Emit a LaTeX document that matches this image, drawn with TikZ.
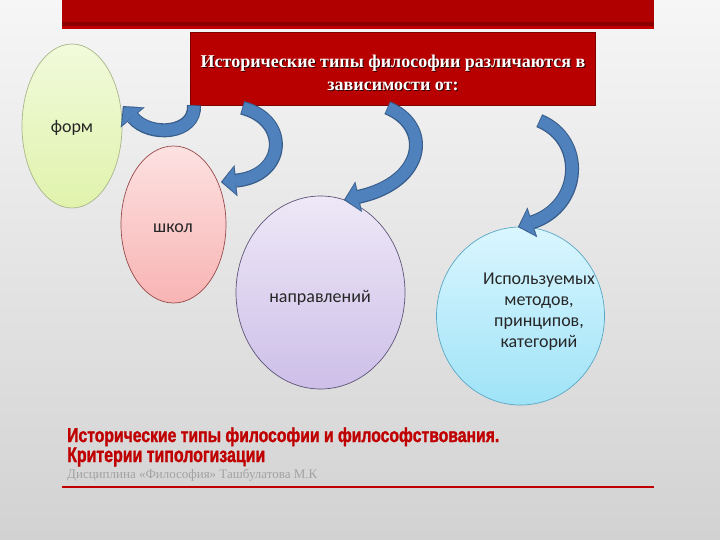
\documentclass[tikz,border=0pt]{standalone}
\usepackage{fontspec}
\setmainfont{Liberation Serif}
\newfontfamily\carl{Carlito}
\newfontfamily\cond[BoldFeatures={FakeBold=1.6}]{Liberation Sans}
\usetikzlibrary{shapes.geometric,arrows.meta}
\definecolor{bgtop}{HTML}{F6F6F6}
\definecolor{bgbot}{HTML}{D2D2D2}
\definecolor{bandred}{HTML}{B00000}
\definecolor{banddark}{HTML}{8A0000}
\definecolor{boxred}{HTML}{B80000}
\definecolor{boxedge}{HTML}{7E0000}
\definecolor{arrowblue}{HTML}{4F81BD}
\definecolor{arrowedge}{HTML}{385D8A}
\definecolor{greentop}{HTML}{F1FADB}
\definecolor{greenbot}{HTML}{E0F3AC}
\definecolor{greenedge}{HTML}{A9B58A}
\definecolor{pinktop}{HTML}{FDE1E1}
\definecolor{pinkbot}{HTML}{F8B4B4}
\definecolor{pinkedge}{HTML}{9A4A4A}
\definecolor{lavtop}{HTML}{EEE8F7}
\definecolor{lavbot}{HTML}{CDBFE8}
\definecolor{lavedge}{HTML}{5E5478}
\definecolor{cyantop}{HTML}{DAF6FF}
\definecolor{cyanbot}{HTML}{9FE3F7}
\definecolor{cyanedge}{HTML}{5AA6C4}
\definecolor{titlered}{HTML}{C00000}
\definecolor{footgray}{HTML}{A2A2A2}
\tikzset{
  bubble/.style={ellipse, inner sep=0pt, line width=0.7pt},
  bubbletext/.style={font=\carl\fontsize{18}{21}\selectfont, text=black!85, align=center, inner sep=0pt},
  bigarrowout/.style={line width=14pt, draw=arrowedge, shorten <=-0.8pt,
    -{Triangle[width=31pt 0 1,length=15pt 0 1,line width=0.1pt]}},
  bigarrowin/.style={line width=11.6pt, draw=arrowblue, shorten >=1.6pt,
    -{Triangle[width=27pt 0 1,length=12.5pt 0 1,line width=0.1pt]}},
  titletext/.style={font=\bfseries\fontsize{18}{23}\selectfont, align=center},
}
\begin{document}
\begin{tikzpicture}[x=1pt,y=-1pt]
\useasboundingbox (0,0) rectangle (720,540);
\shade[top color=bgtop,bottom color=bgbot] (0,0) rectangle (720,540);
% top band
\fill[bandred] (62,0) rectangle (654,29);
\fill[banddark] (62,22) rectangle (654,26.5);
\fill[titlered] (62,26.5) rectangle (654,29);
% ellipses
\node[bubble, draw=greenedge, top color=greentop, bottom color=greenbot,
  minimum width=100pt, minimum height=164pt] (forms) at (72,126) {};
\node[bubble, draw=pinkedge, top color=pinktop, bottom color=pinkbot,
  minimum width=105pt, minimum height=157pt] (schools) at (173.5,224.5) {};
\node[bubble, draw=lavedge, top color=lavtop, bottom color=lavbot,
  minimum width=169pt, minimum height=193pt] (trends) at (320.5,292.5) {};
\node[bubble, draw=cyanedge, top color=cyantop, bottom color=cyanbot,
  minimum width=168pt, minimum height=178pt] (methods) at (520.5,316) {};
\node[bubbletext] (formsT) at (72,128) {форм};
\node[bubbletext] (schoolsT) at (173,228) {школ};
\node[bubbletext] (trendsT) at (320,298) {направлений};
\node[bubbletext] (methodsT) at (539,312) {Используемых\\методов,\\принципов,\\категорий};
% title box
\node[draw=boxedge, fill=boxred, line width=1pt, minimum width=405pt, minimum height=73pt,
  inner sep=0pt] (title) at (392.5,69.5) {};
\node[titletext, text=black!80!red] at (394,74.2)
  {Исторические типы философии различаются в\\зависимости от:};
\node[titletext, text=white] (titleT) at (393,73.2)
  {Исторические типы философии различаются в\\зависимости от:};
% arrow anchors
\coordinate (a1s) at (194,106);
\coordinate (a1e) at (123,106);
\coordinate (a2s) at (243,108);
\coordinate (a2e) at (221,182);
\coordinate (a3s) at (388,108);
\coordinate (a3e) at (344,200);
\coordinate (a4s) at (540,121);
\coordinate (a4e) at (518,227);
\foreach \st in {bigarrowout,bigarrowin}{
  \draw[\st] (a1s) .. controls (196,134) and (150,138) .. (a1e);
  \draw[\st] (a2s) .. controls (290,120) and (286,176) .. (a2e);
  \draw[\st] (a3s) .. controls (432,126) and (426,182) .. (a3e);
  \draw[\st] (a4s) .. controls (586,140) and (582,206) .. (a4e);
}
% bottom title
\node[anchor=base west, inner sep=0pt, text=titlered] (sub1) at (67,442)
  {\resizebox{432pt}{14.5pt}{\cond\bfseries Исторические типы философии и философствования.}};
\node[anchor=base west, inner sep=0pt, text=titlered] (sub2) at (67,462)
  {\resizebox{198pt}{14.5pt}{\cond\bfseries Критерии типологизации}};
\node[anchor=base west, inner sep=0pt, text=footgray, font=\fontsize{13}{14}\selectfont] (foot) at (67,478)
  {Дисциплина «Философия» Ташбулатова М.К};
\draw[titlered, line width=2.5pt] (62,487) coordinate (lineL) -- (654,487) coordinate (lineR);
\end{tikzpicture}
\end{document}
